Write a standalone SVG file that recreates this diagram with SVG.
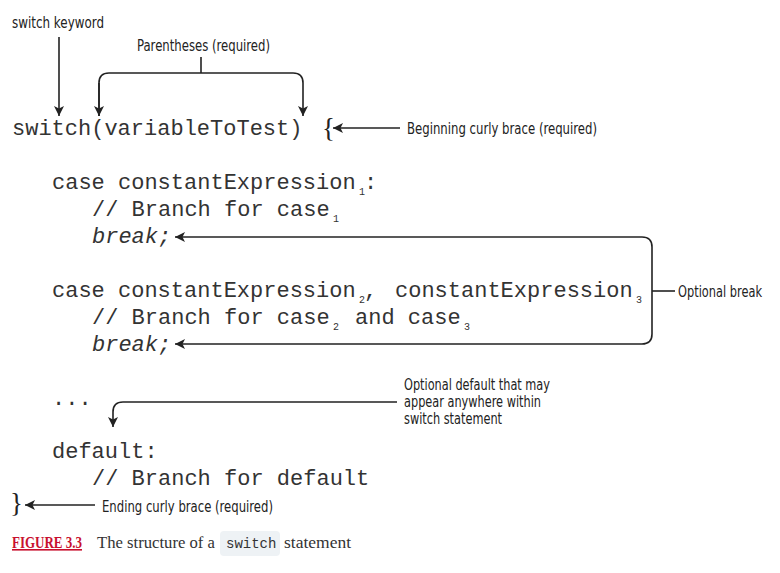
<svg xmlns="http://www.w3.org/2000/svg" width="780" height="573" viewBox="0 0 780 573">
<defs>
<style>
.code{font-family:"Liberation Mono","Courier New",monospace;font-size:22px;fill:#333}
.it{font-style:italic}
.sub{font-family:"Liberation Mono",monospace;font-size:10px;fill:#333}
.lbl{font-family:"Liberation Sans Narrow","DejaVu Sans Condensed","Liberation Sans",sans-serif;font-size:15px;fill:#222}
.brace{font-family:"Liberation Serif","DejaVu Serif",serif;font-size:27px;fill:#222}
.ln{fill:none;stroke:#222;stroke-width:1.6}
.cap{font-family:"Liberation Serif","DejaVu Serif",serif;font-size:17px;fill:#333}
.fig{font-weight:bold;fill:#c8102e;text-decoration:underline;font-size:16px}
</style>
<marker id="ah" viewBox="0 0 10 10" refX="10" refY="5" markerWidth="10" markerHeight="10" markerUnits="userSpaceOnUse" orient="auto">
<path d="M0,0 L10,5 L0,10 L2.5,5 Z" fill="#222"/>
</marker>
</defs>
<rect width="780" height="573" fill="#fff"/>

<g id="code">
<text class="code" x="12" y="135">switch(variableToTest)</text>
<text class="code" x="52" y="189">case constantExpression</text><text class="sub" x="359" y="195">1</text><text class="code" x="364" y="189">:</text>
<text class="code" x="92" y="216">// Branch for case</text><text class="sub" x="333" y="222">1</text>
<text class="code it" x="92" y="243">break;</text>
<text class="code" x="52" y="297">case constantExpression</text><text class="sub" x="359" y="303">2</text><text class="code" x="364" y="297">,</text>
<text class="code" x="395" y="297">constantExpression</text><text class="sub" x="636" y="303">3</text>
<text class="code" x="92" y="324">// Branch for case</text><text class="sub" x="333" y="330">2</text><text class="code" x="355" y="324">and case</text><text class="sub" x="464" y="330">3</text>
<text class="code it" x="92" y="351">break;</text>
<text class="code" x="52" y="405">...</text>
<text class="code" x="52" y="458">default:</text>
<text class="code" x="92" y="485">// Branch for default</text>
</g>

<g id="braces">
<text class="brace" x="322" y="137">{</text>
<text class="brace" x="10" y="512">}</text>
</g>

<g id="connectors">
<path class="ln" d="M59,37 V116" marker-end="url(#ah)"/>
<path class="ln" d="M201,57 V73"/>
<path class="ln" d="M99,116 V83 Q99,73 109,73 H293 Q303,73 303,83 V116" marker-end="url(#ah)"/>
<path class="ln" d="M99,83 V116" marker-end="url(#ah)"/>
<path class="ln" d="M400,128 H333" marker-end="url(#ah)"/>
<path class="ln" d="M642,237 Q652,237 652,247 V334 Q652,344 642,344 H175" marker-end="url(#ah)"/>
<path class="ln" d="M642,237 H175" marker-end="url(#ah)"/>
<path class="ln" d="M652,291 H675"/>
<path class="ln" d="M397,402 H123 Q113,402 113,412 V427" marker-end="url(#ah)"/>
<path class="ln" d="M95,505 H25" marker-end="url(#ah)"/>
</g>

<g id="labels">
<text class="lbl" x="12" y="28" textLength="92" lengthAdjust="spacingAndGlyphs">switch keyword</text>
<text class="lbl" x="137" y="51" textLength="133" lengthAdjust="spacingAndGlyphs">Parentheses (required)</text>
<text class="lbl" x="407" y="134" textLength="190" lengthAdjust="spacingAndGlyphs">Beginning curly brace (required)</text>
<text class="lbl" x="678" y="297" textLength="84" lengthAdjust="spacingAndGlyphs">Optional break</text>
<text class="lbl" x="404" y="390" textLength="146" lengthAdjust="spacingAndGlyphs">Optional default that may</text>
<text class="lbl" x="404" y="407" textLength="137" lengthAdjust="spacingAndGlyphs">appear anywhere within</text>
<text class="lbl" x="404" y="424" textLength="98" lengthAdjust="spacingAndGlyphs">switch statement</text>
<text class="lbl" x="102" y="512" textLength="171" lengthAdjust="spacingAndGlyphs">Ending curly brace (required)</text>
</g>

<g id="caption">
<rect x="220" y="531" width="60" height="25" rx="4" fill="#eef2f5"/>
<text class="cap fig" x="12" y="548" textLength="70" lengthAdjust="spacingAndGlyphs">FIGURE 3.3</text>
<text class="cap" x="97" y="548" textLength="118" lengthAdjust="spacingAndGlyphs">The structure of a</text>
<text x="226" y="548" font-family="Liberation Mono,monospace" font-size="14" fill="#333">switch</text>
<text class="cap" x="284" y="548" textLength="67" lengthAdjust="spacingAndGlyphs">statement</text>
</g>
</svg>
